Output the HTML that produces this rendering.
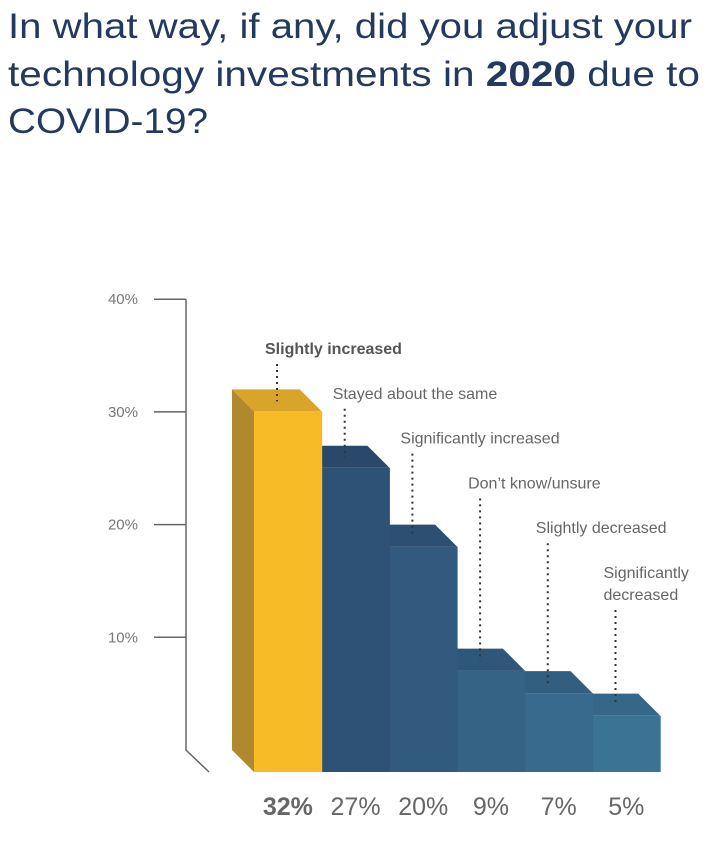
<!DOCTYPE html>
<html><head><meta charset="utf-8"><style>
html,body{margin:0;padding:0;background:#fff;}
svg{display:block;font-family:"Liberation Sans",Arial,sans-serif;}
</style></head><body>
<svg id="chart" width="728" height="841" viewBox="0 0 728 841" xmlns="http://www.w3.org/2000/svg">
<g fill="#24395E" font-size="35">
<text x="8" y="38" textLength="684" lengthAdjust="spacingAndGlyphs">In what way, if any, did you adjust your</text>
<text x="8" y="86" textLength="692" lengthAdjust="spacingAndGlyphs">technology investments in <tspan font-weight="bold">2020</tspan> due to</text>
<text x="8" y="133" textLength="200" lengthAdjust="spacingAndGlyphs">COVID-19?</text>
</g>
<g id="axis"></g>
<g id="bars"></g>
<g id="callouts"></g>
<g id="values"></g>
</svg>
<script>
const categories = ["Slightly increased","Stayed about the same","Significantly increased","Don\u2019t know/unsure","Slightly decreased","Significantly|decreased"];
const values = [32,27,20,9,7,5];
const valueLabels = ["32%","27%","20%","9%","7%","5%"];
const tickValues = [10,20,30,40];
const tickLabels = ["10%","20%","30%","40%"];

const NS="http://www.w3.org/2000/svg";
const y0=750, pxPer=11.27, D=22, x0=254, bw=67.7;
const yS=v=>y0-v*pxPer;
const xS=i=>x0+i*bw;
const fronts=["#F6BB26","#2E5276","#325A7E","#356385","#376A8C","#3A7495"];
const tops=["#D9A42A","#2A4869","#2D5072","#2F5779","#325E80","#356789"];
function mk(tag,attrs,parent){const e=document.createElementNS(NS,tag);for(const k in attrs)e.setAttribute(k,attrs[k]);parent.appendChild(e);return e;}

const axis=document.getElementById('axis');
const axL=mk('path',{d:`M186 ${yS(40)} L186 ${y0} L209 ${y0+D}`,fill:'none',stroke:'#666','stroke-width':1.5},axis);


tickValues.forEach((t,i)=>{
  const y=yS(t);
  const l=mk('line',{x1:154,x2:186,y1:y,y2:y,stroke:'#666','stroke-width':1.5},axis);
  
  
  const tx=mk('text',{x:138,y:y+5,'text-anchor':'end','font-size':15,fill:'#777'},axis);
  tx.textContent=tickLabels[i];
  
  
});

const bars=document.getElementById('bars');
for(let i=values.length-1;i>=0;i--){
  const g=mk('g',{},bars);
  
  
  const xa=xS(i), xb=xS(i+1), yb=yS(values[i]);
  if(i===0){
    mk('polygon',{points:`${xa-D},${yb} ${xa},${yb+D} ${xa},${y0+D} ${xa-D},${y0}`,fill:'#B0882E'},g);
  }
  mk('polygon',{points:`${xa-D},${yb} ${xb-D},${yb} ${xb},${yb+D} ${xa},${yb+D}`,fill:tops[i]},g);
  mk('rect',{x:xa,y:yb+D,width:bw+0.5,height:y0-yb,fill:fronts[i]},g);
}

const callouts=document.getElementById('callouts');
const vals=document.getElementById('values');
values.forEach((v,i)=>{
  const lx=xS(i)+23, yb=yS(v);
  const lines=categories[i].split('|');
  const labelY=354+i*44.8;
  const g=mk('g',{},callouts);
  
  
  const t=mk('text',{x:lx-12,y:labelY,'font-size':16,fill:i===0?'#555':'#666','font-weight':i===0?'bold':'normal'},g);
  lines.forEach((s,k)=>{const ts=mk('tspan',{x:lx-12,dy:k?22:0},t);ts.textContent=s;});
  mk('line',{x1:lx,x2:lx,y1:labelY+(lines.length-1)*22+10,y2:yb+12,stroke:'#333','stroke-width':2,'stroke-dasharray':'2 4'},g);
  const vt=mk('text',{x:xS(i)+bw/2,y:815,'text-anchor':'middle','font-size':25,fill:'#666','font-weight':i===0?'bold':'normal'},vals);
  vt.textContent=valueLabels[i];
  
  
});
</script>
</body></html>
